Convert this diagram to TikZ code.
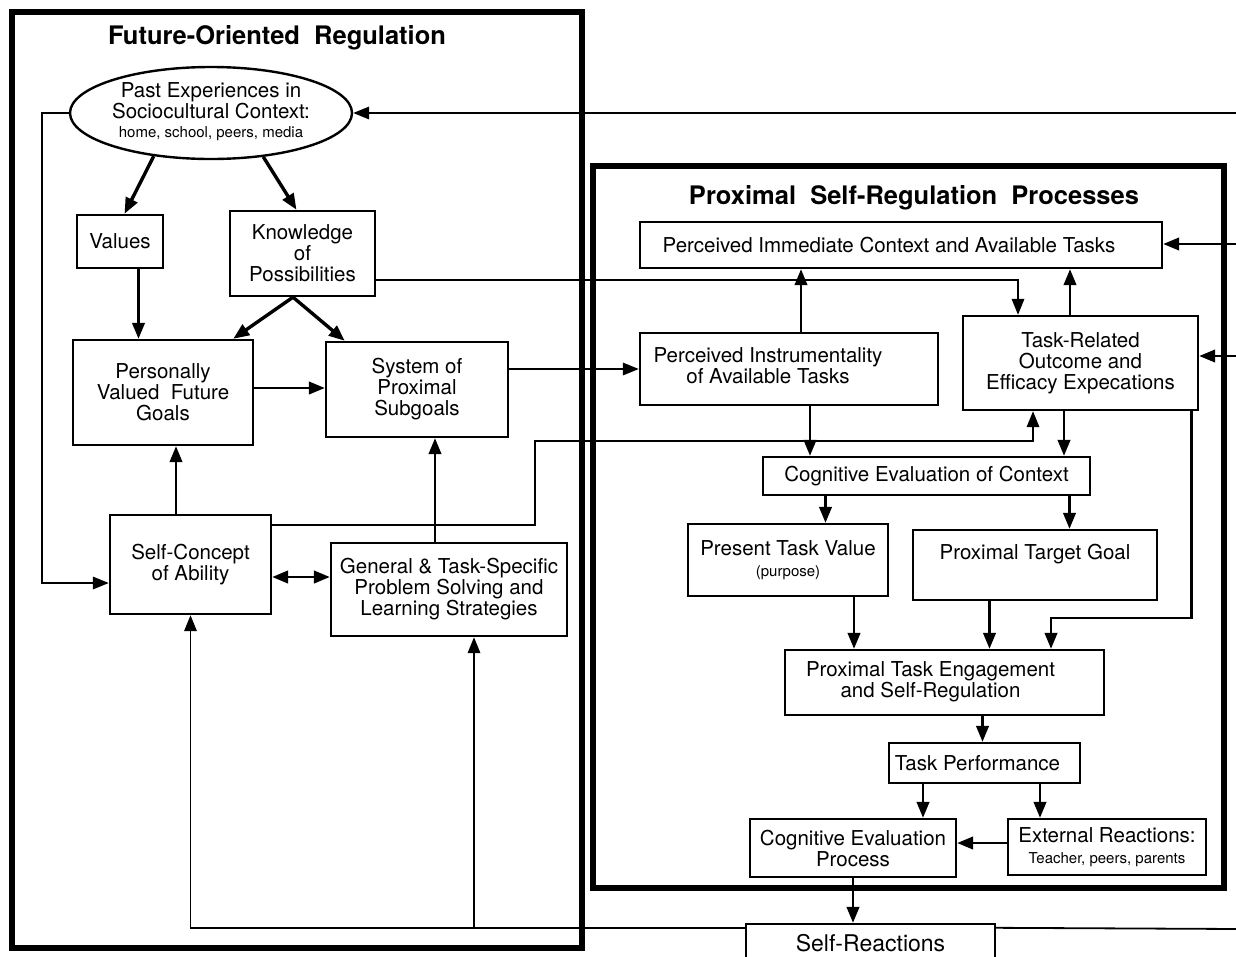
\documentclass[tikz,border=0pt]{standalone}
\usepackage{fontspec}
\setmainfont{TeX Gyre Heros}
\usetikzlibrary{arrows.meta,shapes.geometric}
\newcommand{\smalltxt}{\fontsize{15}{17}\selectfont}
\newcommand{\rbox}[7]{\node[#1,minimum width={(#5)-(#3)},minimum height={(#6)-(#4)}] (#2) at ({((#3)+(#5))/2},{((#4)+(#6))/2}) {#7};}
\begin{document}
\begin{tikzpicture}[x=1pt,y=-1pt,
  box/.style={draw, line width=2.4pt, inner sep=0pt, align=center, font=\fontsize{20.5}{21}\selectfont},
  frame/.style={draw, line width=5.5pt, inner sep=0pt},
  ttl/.style={font=\fontsize{25.5}{28}\selectfont\bfseries, inner sep=0pt},
  tip/.style={-{Triangle[length=16pt,width=12.5pt]}},
  con/.style={tip, line width=2.6pt},
  lite/.style={tip, line width=1.8pt},
  plain/.style={line width=1.8pt},
  heavy/.style={tip, line width=3.4pt}]
\useasboundingbox (0,0) rectangle (1236,956);
\fill[white] (0,0) rectangle (1236,956);

% ---- frames and titles
\rbox{frame}{frameL}{12}{12}{582}{948}{}
\rbox{frame}{frameR}{593}{166}{1224}{888}{}
\node[ttl] (titleL) at (277,38) {Future-Oriented\ \ Regulation};
\node[ttl] (titleR) at (914,198) {Proximal\ \ Self-Regulation\ \ Processes};

% ---- left part
\node[draw, ellipse, line width=2.4pt, minimum width=282pt, minimum height=92pt, inner sep=0pt,
      font=\fontsize{20.5}{21}\selectfont] (past) at (211,113)
  {\makebox[150pt]{\begin{tabular}{@{}c@{}}Past Experiences in\\Sociocultural Context:\\[-2pt]{\smalltxt home, school, peers, media}\end{tabular}}};
\rbox{box}{values}{77}{215}{163}{268}{Values}
\rbox{box}{know}{230}{211}{375}{296}{Knowledge\\of\\Possibilities}
\rbox{box}{pvfg}{73}{340}{253}{445}{Personally\\Valued\ \ Future\\Goals}
\rbox{box}{sps}{326}{342}{508}{437}{System of\\Proximal\\Subgoals}
\rbox{box}{sca}{110}{515}{271}{614}{Self-Concept\\of Ability}
\rbox{box}{strat}{331}{543}{567}{636}{General \& Task-Specific\\Problem Solving and\\Learning Strategies}

% ---- right part
\rbox{box}{pic}{640}{222}{1162}{268}{\mbox{Perceived Immediate Context and Available Tasks}\hspace*{24pt}}
\rbox{box}{pi}{640}{333}{938}{405}{\begin{tabular}{@{}c@{}}Perceived Instrumentality\\of Available Tasks\end{tabular}\hspace*{42pt}}
\rbox{box}{tr}{963}{316}{1198}{410}{Task-Related\\Outcome and\\Efficacy Expecations}
\rbox{box}{cec}{763}{457}{1090}{495}{Cognitive Evaluation of Context}
\rbox{box}{ptv}{688}{524}{888}{596}{Present Task Value\\{\smalltxt (purpose)}}
\rbox{box}{ptg}{913}{530}{1157}{600}{\raisebox{5.5pt}[0pt][0pt]{Proximal Target Goal}}
\rbox{box}{pte}{785}{650}{1104}{715}{\begin{tabular}{@{}c@{}}Proximal Task Engagement\\and Self-Regulation\end{tabular}\hspace*{28pt}}
\rbox{box}{tp}{889}{743}{1080}{783}{Task Performance\hspace*{14pt}}
\rbox{box}{cep}{750}{819}{956}{877}{Cognitive Evaluation\\Process}
\rbox{box}{er}{1008}{819}{1206}{875}{External Reactions:\\{\smalltxt Teacher, peers, parents}}
\rbox{box}{sr}{746}{924}{995}{962}{\fontsize{23}{25}\selectfont Self-Reactions}

% ---- free ends at the right edge
\coordinate (e1) at (1240,113);
\coordinate (e2) at (1240,244);
\coordinate (e3) at (1240,356);
\coordinate (e4) at (1240,929);
\coordinate (bendA) at (535,441);
\coordinate (bendB) at (1051,618);

% ---- left connectors
\draw[heavy] (past.217) -- ([xshift=4.5pt]values.north);
\draw[heavy] (past.-40) -- ([xshift=-6pt]know.north);
\draw[con] ([xshift=18.5pt]values.south) -- ([xshift=18.5pt]values.south |- pvfg.north);
\draw[heavy] ([xshift=-9.5pt]know.south) -- ([xshift=-21pt]pvfg.north east);
\draw[heavy] ([xshift=-9.5pt]know.south) -- ([xshift=20pt]sps.north west);
\draw[con] ([yshift=4.5pt]pvfg.east) -- ([yshift=4.5pt]pvfg.east -| sps.west);
\draw[con] ([xshift=-14.5pt]sca.north) -- ([xshift=-14.5pt]sca.north |- pvfg.south);
\draw[con] ([xshift=-14pt]strat.north) -- ([xshift=-14pt]strat.north |- sps.south);
\draw[{Triangle[length=16pt,width=12.5pt]}-{Triangle[length=16pt,width=12.5pt]}, line width=2.8pt]
  ([yshift=-12.5pt]sca.east) -- ([yshift=-12.5pt]sca.east -| strat.west);
\draw[lite] (past.west) -- ++(-27,0) |- ([yshift=-18.5pt]sca.west);
\draw[lite] ([yshift=-5pt]sr.north west) -| (sca.south);
\draw[lite] ([yshift=-5pt]sr.north west) -| ([xshift=25pt]strat.south);

% ---- cross connectors
\draw[lite] ([yshift=39.5pt]sca.east) -| (bendA) -| ([xshift=-47.5pt]tr.south);
\draw[lite] ([yshift=-26.5pt]know.east) -| ([xshift=-62.5pt]tr.north);
\draw[lite] (sps.east |- pi.west) -- (pi.west);
\draw[lite] (e1) -- (past.east);
\draw[con] (e2) -- (e2 -| pic.east);
\draw[con] (e3) -- (e3 -| tr.east);
\draw[plain] ([yshift=-5pt]sr.north east) -- (e4);

% ---- right connectors
\draw[con] ([xshift=12pt]pi.north) -- ([xshift=12pt]pi.north |- pic.south);
\draw[con] ([xshift=-10.5pt]tr.north) -- ([xshift=-10.5pt]tr.north |- pic.south);
\draw[con] ([xshift=21pt]pi.south) -- ([xshift=21pt]pi.south |- cec.north);
\draw[con] ([xshift=-16.5pt]tr.south) -- ([xshift=-16.5pt]tr.south |- cec.north);
\draw[con] ([xshift=-101pt]cec.south) -- ([xshift=-101pt]cec.south |- ptv.north);
\draw[con] ([xshift=143pt]cec.south) -- ([xshift=143pt]cec.south |- ptg.north);
\draw[con] ([xshift=66pt]ptv.south) -- ([xshift=66pt]ptv.south |- pte.north);
\draw[con] ([xshift=-45.5pt]ptg.south) -- ([xshift=-45.5pt]ptg.south |- pte.north);
\draw[con] ([xshift=111pt]tr.south) |- (bendB) -- (bendB |- pte.north);
\draw[con] ([xshift=38pt]pte.south) -- ([xshift=38pt]pte.south |- tp.north);
\draw[con] ([xshift=-61.5pt]tp.south) -- ([xshift=-61.5pt]tp.south |- cep.north);
\draw[con] ([xshift=55.5pt]tp.south) -- ([xshift=55.5pt]tp.south |- er.north);
\draw[con] ([yshift=4pt]er.west) -- ([yshift=4pt]er.west -| cep.east);
\draw[con] (cep.south) -- (cep.south |- sr.north);
\end{tikzpicture}
\end{document}
